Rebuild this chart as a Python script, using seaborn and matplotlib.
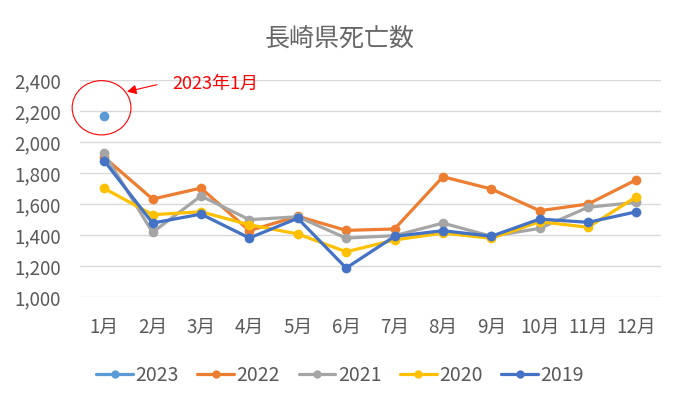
import matplotlib
matplotlib.use("Agg")
import matplotlib.pyplot as plt
from matplotlib.patches import Ellipse
from matplotlib.lines import Line2D
import numpy as np
import pandas as pd
import seaborn as sns

# monthly deaths, Nagasaki prefecture
months = ['1月', '2月', '3月', '4月', '5月', '6月', '7月', '8月', '9月', '10月', '11月', '12月']
years = ['2023', '2022', '2021', '2020', '2019']
d2023 = [2168] + [np.nan] * 11
d2022 = [1900, 1630, 1701, 1426, 1519, 1428, 1437, 1774, 1695, 1555, 1598, 1755]
d2021 = [1925, 1415, 1650, 1497, 1516, 1378, 1394, 1475, 1390, 1441, 1577, 1609]
d2020 = [1699, 1529, 1548, 1464, 1405, 1290, 1366, 1411, 1377, 1484, 1448, 1645]
d2019 = [1877, 1475, 1533, 1379, 1506, 1185, 1389, 1426, 1390, 1501, 1480, 1548]
colors = ['#5B9BD5', '#ED7D31', '#A5A5A5', '#FFC000', '#4472C4']

series = {'2023': d2023, '2022': d2022, '2021': d2021, '2020': d2020, '2019': d2019}
rows = []
for y in years:
    for i, m in enumerate(months):
        rows.append({'month': m, 'idx': i, 'year': y, 'deaths': series[y][i]})
df = pd.DataFrame(rows).dropna()

sns.set_theme(style="white")
plt.rcParams['font.family'] = ['Noto Sans CJK JP', 'DejaVu Sans']

fig = plt.figure(figsize=(6.8, 4.06), dpi=100)
ax = fig.add_axes([0.1176, 0.2667, 0.8540, 0.5345])

sns.lineplot(data=df, x='idx', y='deaths', hue='year', hue_order=years,
             palette=colors, marker='o', markersize=7, markeredgewidth=0,
             linewidth=2.3, sort=False, legend=False, ax=ax)

ax.set_xlim(-0.5, 11.5)
ax.set_ylim(1000, 2400)
ax.set_yticks(np.arange(1000, 2401, 200))
ax.set_yticklabels([f'{v:,}' for v in range(1000, 2401, 200)])
ax.set_xticks(range(12))
ax.set_xticklabels(months)
ax.grid(axis='y', color='#D9D9D9', linewidth=1)
ax.set_axisbelow(True)
for s in ax.spines.values():
    s.set_visible(False)
ax.tick_params(axis='both', length=0, labelsize=13.5, labelcolor='#595959')
ax.tick_params(axis='y', pad=14)
ax.tick_params(axis='x', pad=14)
ax.set_xlabel('')
ax.set_ylabel('')

fig.text(0.5, 0.905, '長崎県死亡数', ha='center', va='center', fontsize=18, color='#666666')

# annotation for Jan 2023
ax.add_patch(Ellipse((-0.054, 2219), 1.215, 350, fill=False, edgecolor='#FF0000',
                     linewidth=0.8, clip_on=False))
ax.annotate('', xy=(0.414, 2319), xytext=(1.15, 2372),
            arrowprops=dict(arrowstyle='-|>', color='#FF0000', lw=0.8, mutation_scale=14),
            annotation_clip=False)
ax.text(1.40, 2377, '2023年1月', color='#FF0000', fontsize=13, va='center', ha='left', clip_on=False)

handles = [Line2D([0], [0], color=c, linewidth=2.3, marker='o', markersize=6, markeredgewidth=0)
           for c in colors]
leg = fig.legend(handles, years, loc='center', bbox_to_anchor=(0.5, 0.074), ncol=5,
                 frameon=False, fontsize=14, handlelength=1.9, handletextpad=0.12, columnspacing=0.95)
for t in leg.get_texts():
    t.set_color('#595959')

fig.savefig('out.png', dpi=100)
